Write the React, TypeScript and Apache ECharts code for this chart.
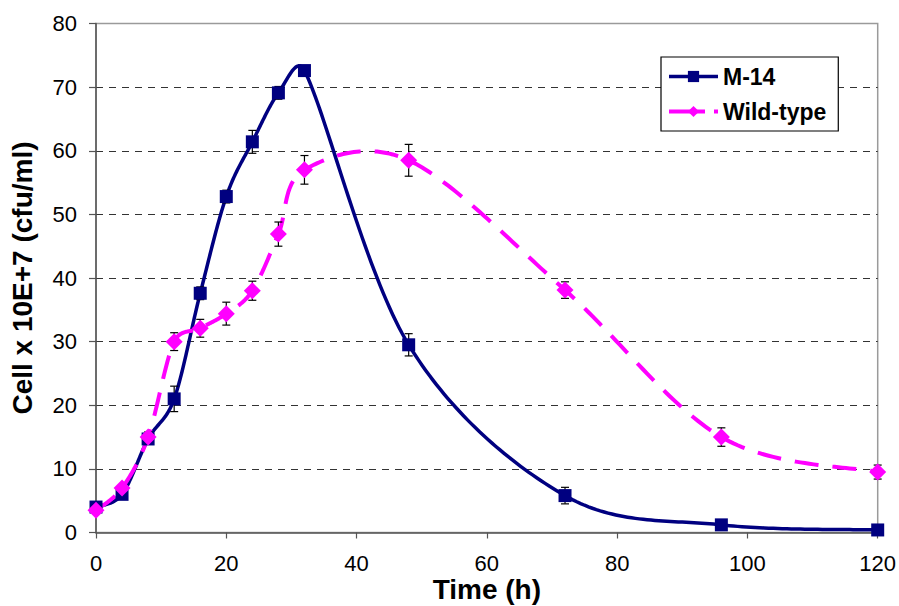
import React, { useEffect, useRef } from "react";
import * as echarts from "echarts";

const times = [0, 4, 8, 12, 16, 20, 24, 28, 32, 48, 72, 96, 120];
const m14 = [4.0, 6.0, 14.7, 21.0, 37.6, 52.8, 61.4, 69.1, 72.6, 29.5, 5.8, 1.2, 0.4];
const m14Err = [0.5, 0.5, 0.8, 2.0, 1.0, 1.0, 1.8, 1.0, 0.8, 1.75, 1.3, 0.5, 0.3];
const wild = [3.5, 7.0, 15.0, 30.0, 32.1, 34.4, 38.0, 46.9, 57.0, 58.5, 38.1, 15.0, 9.5];
const wildErr = [0.5, 0.5, 0.8, 1.4, 1.4, 1.8, 1.5, 1.9, 2.25, 2.5, 1.3, 1.45, 1.1];

const FONT = 'Arial, "Liberation Sans", sans-serif';
const NAVY = "#000080";
const MAGENTA = "#ff00ff";

// Excel-like smoothing (Bezier with capped control-point distances), in pixel space
function smoothPoints(pts: number[][], samples = 40): number[][] {
  const out: number[][] = [pts[0]];
  const n = pts.length;
  const dist = (a: number[], b: number[]) => Math.hypot(a[0] - b[0], a[1] - b[1]);
  for (let i = 0; i < n - 1; i++) {
    const p0 = pts[i - 1] || pts[i];
    const p1 = pts[i];
    const p2 = pts[i + 1];
    const p3 = pts[i + 2] || pts[i + 1];
    const d12 = dist(p1, p2);
    const d02 = dist(p0, p2);
    const d13 = dist(p1, p3);
    const f1 = d02 > 0 ? Math.min(1 / 6, d12 / (2 * d02)) : 0;
    const f2 = d13 > 0 ? Math.min(1 / 6, d12 / (2 * d13)) : 0;
    const c1 = [p1[0] + (p2[0] - p0[0]) * f1, p1[1] + (p2[1] - p0[1]) * f1];
    const c2 = [p2[0] - (p3[0] - p1[0]) * f2, p2[1] - (p3[1] - p1[1]) * f2];
    for (let s = 1; s <= samples; s++) {
      const t = s / samples;
      const u = 1 - t;
      const a = u * u * u;
      const b = 3 * u * u * t;
      const c = 3 * u * t * t;
      const d = t * t * t;
      out.push([
        a * p1[0] + b * c1[0] + c * c2[0] + d * p2[0],
        a * p1[1] + b * c1[1] + c * c2[1] + d * p2[1],
      ]);
    }
  }
  return out;
}

function curveRender(values: number[], style: any) {
  return (params: any, api: any) => {
    if (params.dataIndex !== 0) return null;
    const pts = times.map((t, i) => api.coord([t, values[i]]));
    return {
      type: "polyline",
      shape: { points: smoothPoints(pts) },
      style: { ...style, fill: null },
    };
  };
}

function errRender(params: any, api: any) {
  const x = api.value(0);
  const y = api.value(1);
  const e = api.value(2);
  const top = api.coord([x, y + e]);
  const bot = api.coord([x, y - e]);
  const hw = 4;
  const style = { stroke: "#000", lineWidth: 1.2 };
  return {
    type: "group",
    children: [
      { type: "line", shape: { x1: top[0], y1: top[1], x2: bot[0], y2: bot[1] }, style },
      { type: "line", shape: { x1: top[0] - hw, y1: top[1], x2: top[0] + hw, y2: top[1] }, style },
      { type: "line", shape: { x1: bot[0] - hw, y1: bot[1], x2: bot[0] + hw, y2: bot[1] }, style },
    ],
  };
}

export default function App() {
  const ref = useRef<HTMLDivElement>(null);
  useEffect(() => {
    if (!ref.current) return;
    const chart = echarts.init(ref.current, undefined, { renderer: "svg" });
    const m14Data = times.map((t, i) => [t, m14[i]]);
    const wildData = times.map((t, i) => [t, wild[i]]);
    const m14ErrData = times.map((t, i) => [t, m14[i], m14Err[i]]);
    const wildErrData = times.map((t, i) => [t, wild[i], wildErr[i]]);
    chart.setOption({
      animation: false,
      backgroundColor: "#fff",
      textStyle: { fontFamily: FONT },
      grid: {
        left: 96,
        top: 23.5,
        right: 21.3,
        bottom: 73.5,
        containLabel: false,
        outerBoundsMode: "none",
        show: true,
        borderColor: "#9a9a9a",
        borderWidth: 1.5,
        backgroundColor: "transparent",
      },
      legend: {
        orient: "vertical",
        left: 661,
        top: 57,
        data: [
          {
            name: "M-14",
            lineStyle: { color: NAVY, width: 3.5, opacity: 1, type: "solid" },
          },
          {
            name: "Wild-type",
            lineStyle: { color: MAGENTA, width: 4, opacity: 1, type: [36, 9] },
          },
        ],
        backgroundColor: "#fff",
        borderColor: "#000",
        borderWidth: 1.2,
        borderRadius: 0,
        padding: [8, 12, 8, 6],
        itemWidth: 49,
        itemHeight: 14,
        itemGap: 12,
        textStyle: { fontFamily: FONT, fontSize: 23, fontWeight: "bold", color: "#000" },
      },
      xAxis: {
        type: "value",
        min: 0,
        max: 120,
        interval: 20,
        name: "Time (h)",
        nameLocation: "middle",
        nameGap: 43,
        nameMoveOverlap: false,
        nameTextStyle: { fontFamily: FONT, fontSize: 28, fontWeight: "bold", color: "#000" },
        axisLine: { show: true, lineStyle: { color: "#555", width: 1.5 } },
        axisTick: { show: true, inside: false, length: 6, lineStyle: { color: "#555", width: 1.2 } },
        axisLabel: { fontFamily: FONT, fontSize: 22, color: "#000", margin: 20 },
        splitLine: { show: false },
      },
      yAxis: {
        type: "value",
        min: 0,
        max: 80,
        interval: 10,
        name: "Cell x 10E+7 (cfu/ml)",
        nameLocation: "middle",
        nameRotate: 90,
        nameGap: 60,
        nameMoveOverlap: false,
        nameTextStyle: { fontFamily: FONT, fontSize: 28, fontWeight: "bold", color: "#000" },
        axisLine: { show: true, lineStyle: { color: "#555", width: 1.5 } },
        axisTick: { show: true, inside: false, length: 7, lineStyle: { color: "#555", width: 1.2 } },
        axisLabel: { fontFamily: FONT, fontSize: 22, color: "#000", margin: 19 },
        splitLine: {
          show: true,
          showMinLine: false,
          showMaxLine: false,
          lineStyle: { color: "#333", type: [7, 6], width: 1.2 },
        },
      },
      series: [
        {
          type: "custom",
          name: "m14curve",
          renderItem: curveRender(m14, { stroke: NAVY, lineWidth: 3.5 }),
          data: m14Data,
          encode: { x: 0, y: 1 },
          z: 2,
          silent: true,
          clip: false,
        },
        {
          type: "custom",
          name: "wildcurve",
          renderItem: curveRender(wild, { stroke: MAGENTA, lineWidth: 4, lineDash: [24, 14] }),
          data: wildData,
          encode: { x: 0, y: 1 },
          z: 2,
          silent: true,
          clip: false,
        },
        {
          type: "custom",
          name: "m14err",
          renderItem: errRender,
          data: m14ErrData,
          encode: { x: 0, y: 1 },
          z: 3,
          silent: true,
          clip: false,
        },
        {
          type: "custom",
          name: "wilderr",
          renderItem: errRender,
          data: wildErrData,
          encode: { x: 0, y: 1 },
          z: 3,
          silent: true,
          clip: false,
        },
        {
          type: "line",
          name: "M-14",
          data: m14Data,
          symbol: "rect",
          symbolSize: 13,
          color: NAVY,
          lineStyle: { color: NAVY, width: 3.5, opacity: 0 },
          itemStyle: { color: NAVY },
          z: 4,
        },
        {
          type: "line",
          name: "Wild-type",
          data: wildData,
          symbol: "diamond",
          symbolSize: 17,
          color: MAGENTA,
          lineStyle: { color: MAGENTA, width: 4, opacity: 0 },
          itemStyle: { color: MAGENTA },
          z: 4,
        },
      ],
    });
    return () => chart.dispose();
  }, []);
  return (
    <div
      ref={ref}
      style={{ position: "absolute", left: 0, top: 0, width: 899, height: 606 }}
    />
  );
}
